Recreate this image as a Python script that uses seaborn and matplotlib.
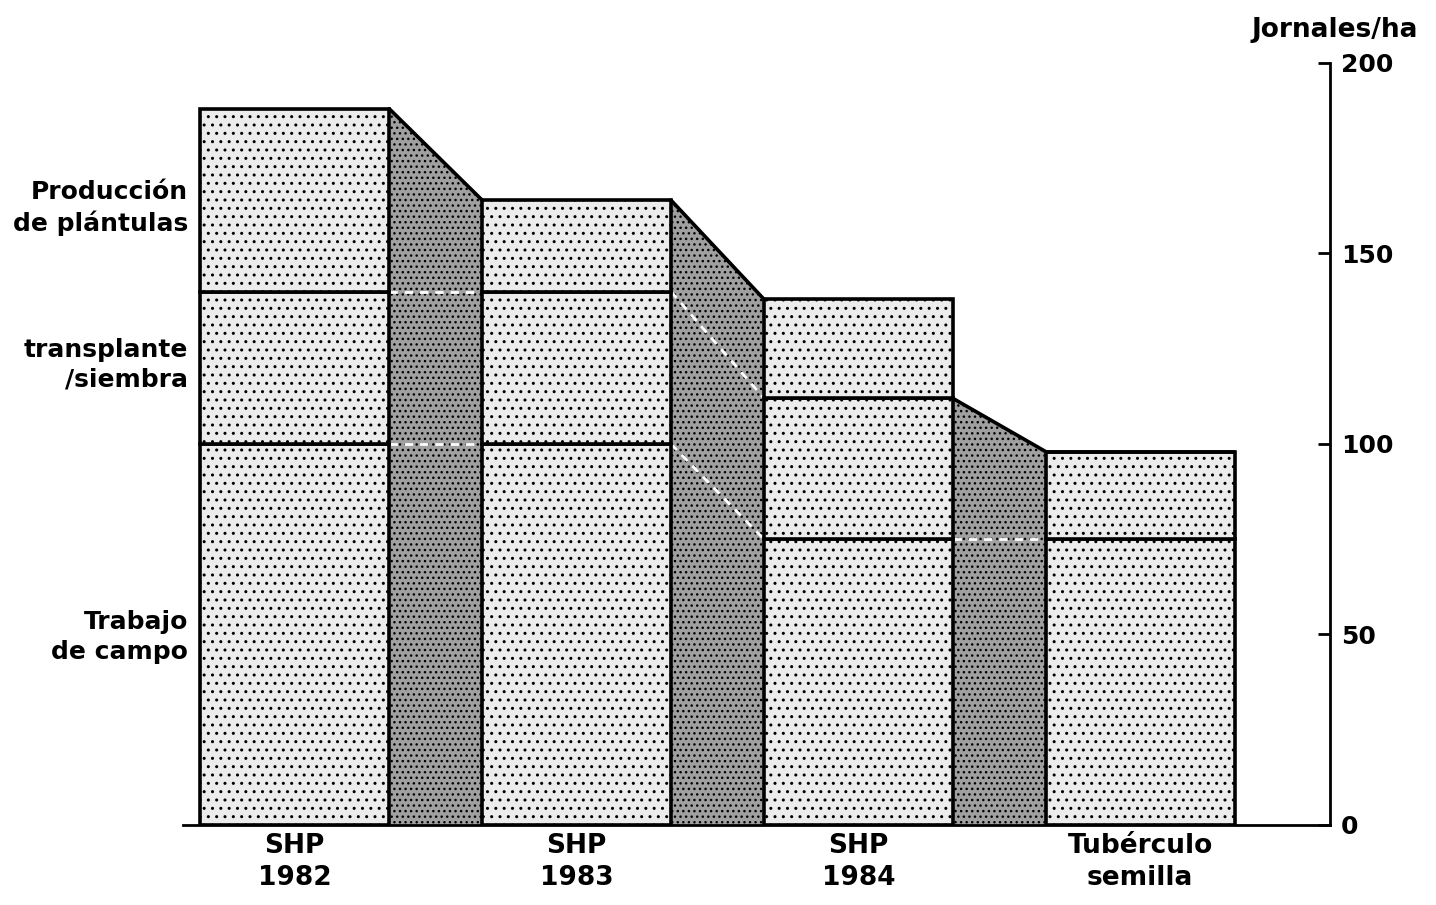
import numpy as np
import matplotlib
matplotlib.use("Agg")
import matplotlib.pyplot as plt
import seaborn as sns

# values (jornales/ha)
categories = ["SHP\n1982", "SHP\n1983", "SHP\n1984", "Tubérculo\nsemilla"]
trabajo_campo = [100, 100, 75, 75]
transplante_siembra = [40, 40, 37, 23]
produccion_plantulas = [48, 24, 26, 0]
layer_names = ["Trabajo\nde campo", "transplante\n/siembra", "Producción\nde plántulas"]
y_ticks = [0, 50, 100, 150, 200]

sns.set_theme(style="white")
plt.rcParams['font.family'] = ['DejaVu Sans']
plt.rcParams['font.weight'] = 'bold'
plt.rcParams['text.color'] = 'black'
plt.rcParams['xtick.color'] = 'black'
plt.rcParams['ytick.color'] = 'black'
plt.rcParams['hatch.linewidth'] = 1.0
plt.rcParams['hatch.color'] = 'black'

fig = plt.figure(figsize=(14.36, 9.05), dpi=100)
ax = fig.add_axes([0.1274, 0.0884, 0.7988, 0.842])

bar_width = 0.67
half = bar_width / 2
layers = [trabajo_campo, transplante_siembra, produccion_plantulas]
cum = np.cumsum(layers, axis=0)

# shaded connectors between neighbouring bars
for i in range(len(categories) - 1):
    common = [k for k in range(len(layers)) if layers[k][i] > 0 and layers[k][i + 1] > 0]
    xs = [i + half, i + 1 - half]
    top = common[-1]
    ys = [cum[top][i], cum[top][i + 1]]
    ax.fill_between(xs, ys, 0, facecolor='#a0a0a0', edgecolor='black',
                    hatch='...', linewidth=0, zorder=1)
    ax.plot(xs, ys, color='black', lw=2.6, solid_capstyle='round', zorder=3)
    for k in common[:-1]:
        ax.plot(xs, [cum[k][i], cum[k][i + 1]], color='white', lw=2,
                ls=(0, (3, 2.5)), zorder=2)

# stacked bars
bottom = np.zeros(len(categories))
for vals in layers:
    sns.barplot(x=categories, y=vals, bottom=bottom, width=bar_width,
                color='#ececec', saturation=1, edgecolor='black', linewidth=2.6,
                hatch='..', errorbar=None, ax=ax, zorder=2)
    bottom = bottom + np.array(vals)

ax.set_xlim(-0.397, 3.674)
ax.set_ylim(0, 200)
ax.set_yticks(y_ticks)
ax.yaxis.tick_right()
ax.tick_params(axis='y', direction='in', length=9, width=2, color='black',
               labelcolor='black', labelsize=18, pad=8, right=True, left=False)
ax.tick_params(axis='x', length=0, labelsize=19, pad=6, labelcolor='black')
for lab in ax.get_xticklabels():
    lab.set_linespacing(1.3)
    lab.set_fontweight('bold')
for lab in ax.get_yticklabels():
    lab.set_fontweight('bold')
ax.set_xlabel('')
ax.set_ylabel('')

for side in ['left', 'top']:
    ax.spines[side].set_visible(False)
for side in ['right', 'bottom']:
    ax.spines[side].set_visible(True)
    ax.spines[side].set_color('black')
    ax.spines[side].set_linewidth(2)
ax.grid(False)

# segment labels on the left
label_y = [0.296, 0.597, 0.770]
for name, yy in zip(layer_names, label_y):
    fig.text(0.1309, yy, name, ha='right', va='center', multialignment='right',
             fontsize=18, fontweight='bold', linespacing=1.3, color='black')

fig.text(0.9875, 0.967, "Jornales/ha", ha='right', va='center',
         fontsize=19, fontweight='bold', color='black')

fig.savefig("out.png", dpi=100, facecolor='white')
